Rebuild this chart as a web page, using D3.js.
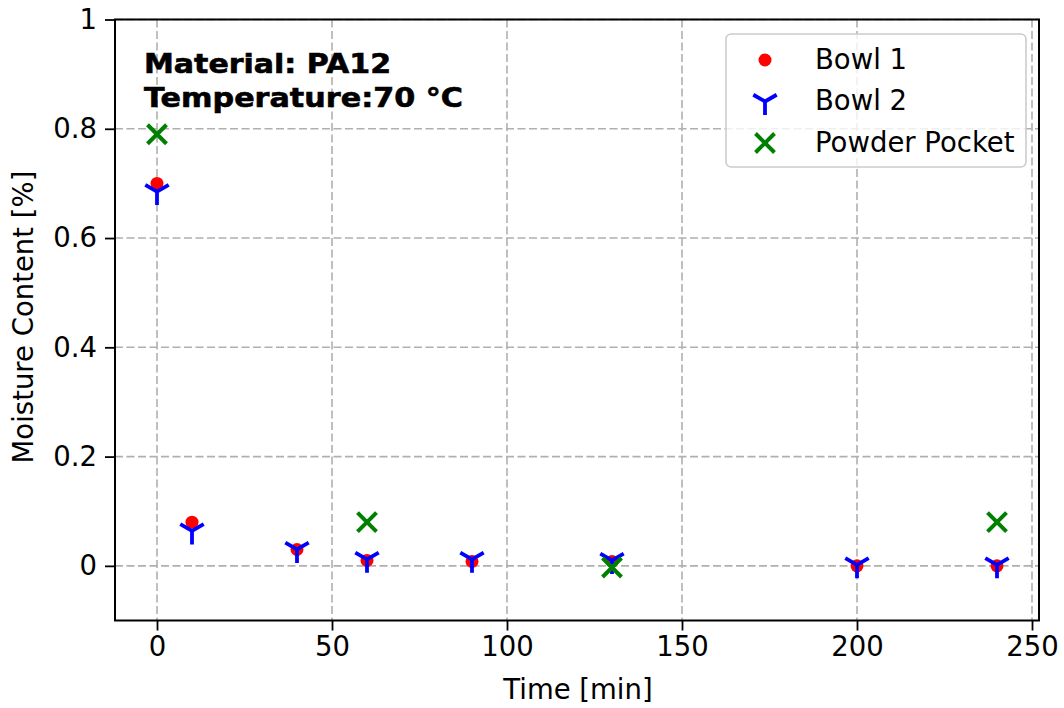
<!DOCTYPE html>
<html>
<head>
<meta charset="utf-8">
<script src="https://cdn.jsdelivr.net/npm/d3@7"></script>
<style>
  html, body { margin: 0; padding: 0; background: #fff; }
  svg { display: block; font-family: "DejaVu Sans", sans-serif; }
</style>
</head>
<body>
<svg id="chart" width="1064" height="708"></svg>
<script>
// ── data ───────────────────────────────────────────────────────────────────
const times       = [0, 10, 40, 60, 90, 130, 200, 240];
const bowl1       = [0.70, 0.08, 0.03, 0.01, 0.008, 0.008, 0.0, 0.0];
const bowl2       = [0.685, 0.064, 0.03, 0.012, 0.012, 0.01, 0.002, 0.002];
const pocketTimes = [0, 60, 130, 240];
const pocket      = [0.79, 0.08, -0.003, 0.08];
const xTicks = [0, 50, 100, 150, 200, 250];
const yTicks = [0, 0.2, 0.4, 0.6, 0.8, 1];
const yTickLabels = ['0', '0.2', '0.4', '0.6', '0.8', '1'];
const legendNames = ['Bowl 1', 'Bowl 2', 'Powder Pocket'];
const noteLines = ['Material: PA12', 'Temperature:70 °C'];
const noteWidths = [247, 319];   // measured text widths in the reference

// ── layout ─────────────────────────────────────────────────────────────────
const box = { left: 115, right: 1039, top: 19.5, bottom: 620.5 };
const FS = 27.5;
const svg = d3.select('#chart');

const x = d3.scaleLinear().domain([-12, 252]).range([box.left, box.right]);
const y = d3.scaleLinear().domain([-0.1, 1]).range([box.bottom, box.top]);

// ── marker shapes ──────────────────────────────────────────────────────────
const triR = 13.5, xR = 9.5;
const triPath = `M0,0L0,${triR}M0,0L${-triR*0.866},${-triR*0.5}M0,0L${triR*0.866},${-triR*0.5}`;
const xPath = `M${-xR},${-xR}L${xR},${xR}M${-xR},${xR}L${xR},${-xR}`;

function drawCircle(g) { g.append('circle').attr('r', 6.5).attr('fill', '#ff0000'); }
function drawTri(g) {
  g.append('path').attr('d', triPath).attr('stroke', '#0000ff')
    .attr('stroke-width', 3.8).attr('fill', 'none');
}
function drawX(g) {
  g.append('path').attr('d', xPath).attr('stroke', '#008000')
    .attr('stroke-width', 4).attr('fill', 'none');
}

// ── grid ───────────────────────────────────────────────────────────────────
const grid = svg.append('g').attr('stroke', '#b0b0b0').attr('stroke-width', 1.6)
  .attr('stroke-dasharray', '8,3.5');
grid.selectAll('.gx').data(xTicks).join('line')
  .attr('x1', d => x(d)).attr('x2', d => x(d)).attr('y1', box.top).attr('y2', box.bottom);
grid.selectAll('.gy').data(yTicks).join('line')
  .attr('y1', d => y(d)).attr('y2', d => y(d)).attr('x1', box.left).attr('x2', box.right);

// ── axes ───────────────────────────────────────────────────────────────────
const xAxis = svg.append('g').attr('transform', `translate(0,${box.bottom})`)
  .call(d3.axisBottom(x).tickValues(xTicks).tickSize(10).tickPadding(6).tickSizeOuter(0));
const yAxis = svg.append('g').attr('transform', `translate(${box.left},0)`)
  .call(d3.axisLeft(y).tickValues(yTicks).tickFormat((d, i) => yTickLabels[i])
    .tickSize(10).tickPadding(8).tickSizeOuter(0));
[xAxis, yAxis].forEach(a => {
  a.select('.domain').remove();
  a.selectAll('line').attr('stroke', '#000').attr('stroke-width', 1.8);
  a.selectAll('text').attr('font-size', FS).attr('fill', '#000')
    .attr('font-family', '"DejaVu Sans", sans-serif');
});

// ── data marks ─────────────────────────────────────────────────────────────
const pts1 = times.map((t, i) => ({ t, v: bowl1[i] }));
const pts2 = times.map((t, i) => ({ t, v: bowl2[i] }));
const pts3 = pocketTimes.map((t, i) => ({ t, v: pocket[i] }));

svg.append('g').selectAll('g').data(pts1).join('g')
  .attr('transform', d => `translate(${x(d.t)},${y(d.v)})`).each(function() { drawCircle(d3.select(this)); });
svg.append('g').selectAll('g').data(pts2).join('g')
  .attr('transform', d => `translate(${x(d.t)},${y(d.v)})`).each(function() { drawTri(d3.select(this)); });
svg.append('g').selectAll('g').data(pts3).join('g')
  .attr('transform', d => `translate(${x(d.t)},${y(d.v)})`).each(function() { drawX(d3.select(this)); });

// ── spines ─────────────────────────────────────────────────────────────────
svg.append('rect').attr('x', box.left).attr('y', box.top)
  .attr('width', box.right - box.left).attr('height', box.bottom - box.top)
  .attr('fill', 'none').attr('stroke', '#000').attr('stroke-width', 2);

// ── labels ─────────────────────────────────────────────────────────────────
svg.append('text').attr('x', (box.left + box.right) / 2 + 1).attr('y', 699)
  .attr('text-anchor', 'middle').attr('font-size', FS).text('Time [min]');
svg.append('text').attr('transform', `translate(33,${(box.top + box.bottom) / 2 - 3}) rotate(-90)`)
  .attr('text-anchor', 'middle').attr('font-size', FS).text('Moisture Content [%]');

svg.append('g').selectAll('text').data(noteLines).join('text')
  .attr('x', 144).attr('y', (d, i) => 73 + i * 34)
  .attr('font-family', '"DejaVu Sans Bold", "DejaVu Sans", sans-serif')
  .attr('font-size', 27).attr('font-weight', 'bold')
  .attr('stroke', '#000').attr('stroke-width', 0.6)
  .attr('textLength', (d, i) => noteWidths[i]).attr('lengthAdjust', 'spacingAndGlyphs')
  .text(d => d);

// ── legend ─────────────────────────────────────────────────────────────────
const leg = svg.append('g');
leg.append('rect').attr('x', 726).attr('y', 34).attr('width', 300).attr('height', 133)
  .attr('rx', 5).attr('fill', '#fff').attr('fill-opacity', 0.8)
  .attr('stroke', '#cccccc').attr('stroke-width', 1.6);
const drawers = [drawCircle, drawTri, drawX];
legendNames.forEach((name, i) => {
  const cy = 60 + i * 41.5;
  const g = leg.append('g').attr('transform', `translate(765,${cy})`);
  drawers[i](g);
  leg.append('text').attr('x', 815).attr('y', cy + 8.5).attr('font-size', FS).text(name);
});
</script>
</body>
</html>
